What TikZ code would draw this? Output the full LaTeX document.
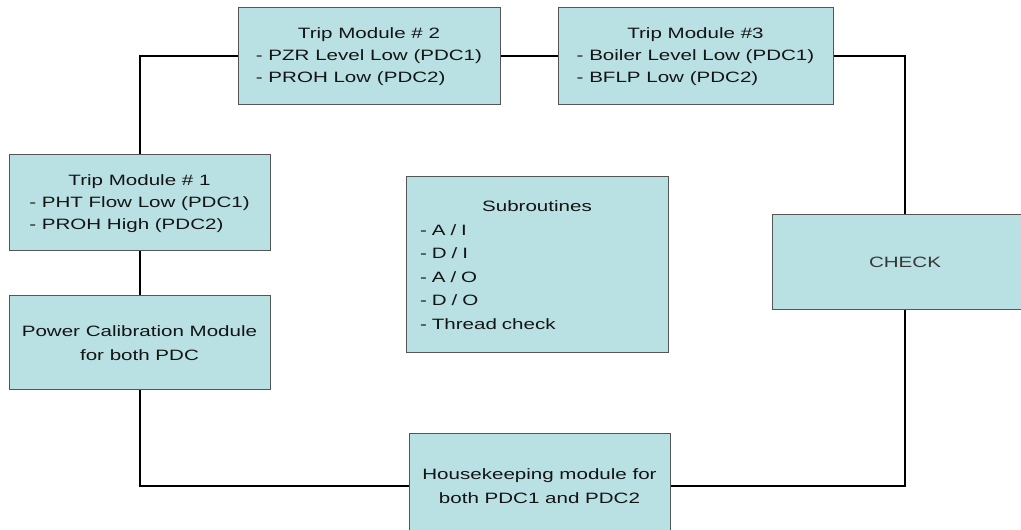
\documentclass[tikz,border=0pt]{standalone}
\usepackage{fontspec}
\setmainfont{Liberation Sans}[FakeStretch=1.37]
\definecolor{boxfill}{RGB}{185,224,227}
\definecolor{boxline}{RGB}{85,85,85}
\definecolor{boxtext}{RGB}{20,20,20}

\tikzset{every picture/.style={line width=0.75pt}}
\tikzset{
  modbox/.style={draw=boxline, fill=boxfill, text=boxtext, inner sep=0pt,
    font={\fontsize{11.25pt}{16.5pt}\selectfont}},
  conn/.style={draw=black, line width=1.5pt}
}

\begin{document}
\begin{tikzpicture}[x=0.75pt,y=0.75pt,yscale=-1,xscale=1]
\useasboundingbox (0,0) rectangle (1021,530);

% Trip Module #2
\draw (369,56.5) node [modbox, minimum width=196.5pt, minimum height=72.75pt] (trip2)
  {\begin{tabular}{@{}l@{}}\multicolumn{1}{c}{Trip Module \# 2}\\ - PZR Level Low (PDC1)\\ - PROH Low (PDC2)\end{tabular}};
% Trip Module #3
\draw (695.5,56.5) node [modbox, minimum width=206.25pt, minimum height=72.75pt] (trip3)
  {\begin{tabular}{@{}l@{}}\multicolumn{1}{c}{Trip Module \#3}\\ - Boiler Level Low (PDC1)\\ - BFLP Low (PDC2)\end{tabular}};
% Trip Module #1
\draw (139.5,203) node [modbox, minimum width=195.75pt, minimum height=72pt] (trip1)
  {\begin{tabular}{@{}l@{}}\multicolumn{1}{c}{Trip Module \# 1}\\ - PHT Flow Low (PDC1)\\ - PROH High (PDC2)\end{tabular}};
% Power calibration
\draw (139.5,343) node [modbox, minimum width=195.75pt, minimum height=70.5pt, align=center,
  font={\fontsize{11.25pt}{18pt}\selectfont}] (power)
  {Power Calibration Module\\for both PDC};
% Subroutines
\draw (537,265) node [modbox, minimum width=196.5pt, minimum height=132pt, text width=175.5pt, align=left,
  font={\fontsize{11.25pt}{17.6pt}\selectfont}] (subr)
  {\makebox[175.5pt]{Subroutines}\\ - A / I\\ - D / I\\ - A / O\\ - D / O\\ - Thread check};
% Housekeeping
\draw (539.5,486) node [modbox, minimum width=195.75pt, minimum height=78pt, align=center,
  font={\fontsize{11.25pt}{18pt}\selectfont}] (house)
  {Housekeeping module for\\both PDC1 and PDC2};
% CHECK
\draw (905,262.5) node [modbox, minimum width=199.5pt, minimum height=71.25pt, text=boxtext!85!white] (check) {CHECK};

% Connectors
\draw [conn] (trip2.west) -| (trip1.north);
\draw [conn] (trip2.east) -- (trip3.west);
\draw [conn] (trip3.east) -| (check.north);
\draw [conn] (trip1.south) -- (power.north);
\draw [conn] (power.south) |- (house.west);
\draw [conn] (check.south) |- (house.east);

\end{tikzpicture}
\end{document}
